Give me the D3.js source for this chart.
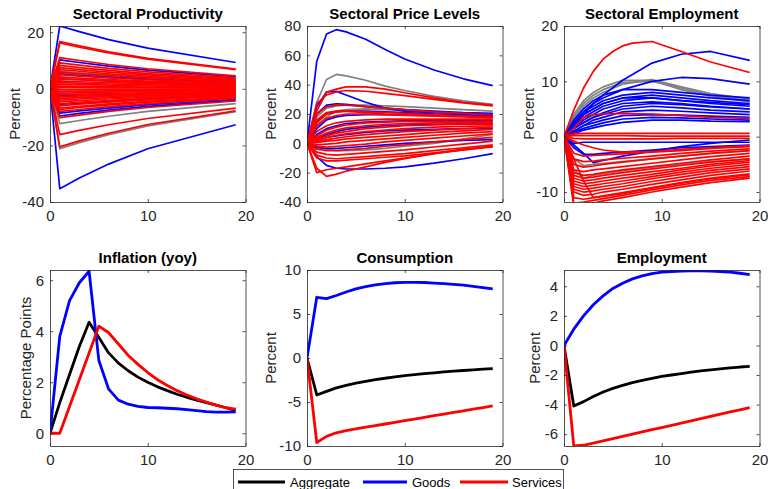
<!DOCTYPE html>
<html>
<head>
<meta charset="utf-8">
<script src="https://cdn.jsdelivr.net/npm/d3@7"></script>
<style>
  body { margin: 0; background: #fff; }
  text { font-family: "Liberation Sans", Arial, Helvetica, sans-serif; }
</style>
</head>
<body>
<div id="chart"></div>
<script>
// ---- data ----

// horizon for the aggregate panels
var horizon = d3.range(0, 20);

// sectoral productivity, sampled at these horizons
var prodX = [0, 1, 3, 6, 10, 19];
var prodBlue = [
  [0, 22.2, 20.2, 17.4, 14.4, 9.3],
  [0, -35.3, -31.5, -26.6, -21.2, -12.7],
  [0, 10.2, 9.3, 8.0, 6.6, 4.3],
  [0, 5.2, 4.7, 4.1, 3.4, 2.2],
  [0, 3.5, 3.2, 2.8, 2.3, 1.5],
  [0, -2.5, -2.3, -2.0, -1.6, -1.1],
  [0, -5.5, -5.0, -4.3, -3.6, -2.3],
  [0, -8.6, -7.8, -6.8, -5.6, -3.6],
  [0, -9.6, -8.7, -7.5, -6.2, -4.0]
];
var prodGray = [
  [0, 6.2, 5.6, 4.9, 4.0, 2.6],
  [0, 5.6, 5.1, 4.4, 3.6, 2.4],
  [0, -1.0, -0.9, -0.8, -0.6, -0.4],
  [0, -12.3, -11.2, -9.7, -8.0, -5.2],
  [0, -21.2, -19.0, -16.2, -13.1, -8.1],
  [0, -3.2, -2.9, -2.5, -2.1, -1.3]
];
var prodRed = [
  [0, 16.7, 15.2, 13.1, 10.8, 7.0],
  [0, 16.2, 14.7, 12.7, 10.5, 6.8],
  [0, 11.0, 10.0, 8.6, 7.1, 4.6],
  [0, 9.2, 8.4, 7.2, 6.0, 3.9],
  [0, 8.3, 7.5, 6.5, 5.4, 3.5],
  [0, 7.5, 6.8, 5.9, 4.9, 3.2],
  [0, 6.8, 6.2, 5.3, 4.4, 2.9],
  [0, 6.0, 5.4, 4.7, 3.9, 2.5],
  [0, 5.0, 4.5, 3.9, 3.2, 2.1],
  [0, 4.2, 3.8, 3.3, 2.7, 1.8],
  [0, 3.5, 3.2, 2.8, 2.3, 1.5],
  [0, 2.8, 2.5, 2.2, 1.8, 1.2],
  [0, 2.2, 2.0, 1.7, 1.4, 0.9],
  [0, 1.6, 1.5, 1.3, 1.0, 0.7],
  [0, 1.0, 0.9, 0.8, 0.6, 0.4],
  [0, 0.4, 0.4, 0.3, 0.3, 0.2],
  [0, -0.3, -0.3, -0.2, -0.2, -0.1],
  [0, -0.9, -0.8, -0.7, -0.6, -0.4],
  [0, -1.5, -1.4, -1.2, -1.0, -0.6],
  [0, -2.1, -1.9, -1.7, -1.4, -0.9],
  [0, -2.8, -2.5, -2.2, -1.8, -1.2],
  [0, -3.4, -3.1, -2.7, -2.2, -1.4],
  [0, -4.0, -3.6, -3.1, -2.6, -1.7],
  [0, -4.6, -4.2, -3.6, -3.0, -1.9],
  [0, -5.3, -4.8, -4.2, -3.4, -2.2],
  [0, -6.0, -5.4, -4.7, -3.9, -2.5],
  [0, -6.8, -6.2, -5.3, -4.4, -2.9],
  [0, -7.3, -6.6, -5.7, -4.7, -3.1],
  [0, -8.0, -7.3, -6.3, -5.2, -3.4],
  [0, -10.2, -9.3, -8.0, -6.6, -4.3],
  [0, -16.2, -14.7, -12.7, -10.5, -6.8],
  [0, -20.5, -18.4, -15.7, -12.6, -7.8]
];

// sectoral price levels
var priceX = [0, 1, 2, 3, 4, 6, 8, 10, 13, 16, 19];
var priceBlue = [
  [0, 56, 74.5, 77.5, 76, 71, 64, 57.5, 50, 44, 39.3],
  [0, 25, 35, 35.4, 33, 28, 24, 22, 21, 20.5, 20],
  [0, 20, 26, 27, 26.5, 25, 24, 23, 22, 21, 20.5],
  [0, 15, 20, 21.5, 22, 22, 21.5, 21, 20, 19.5, 19],
  [0, 10, 16, 18, 19, 19.5, 19.5, 19.3, 19, 18.7, 18.3],
  [0, 6, 10, 12, 13.5, 14.5, 15, 15.3, 15.5, 15.5, 15.5],
  [0, 3, 6, 8, 9.5, 11, 12, 12.5, 13, 13.2, 13.3],
  [0, 2, 4, 5, 6, 7.5, 8.5, 9, 9.5, 10, 10],
  [0, -3, -3.5, -3.5, -3, -2, -1, 0, 1, 2, 2.5],
  [0, -9, -15, -17, -17.5, -17.5, -17, -16, -13.5, -10.5, -7]
];
var priceGray = [
  [0, 28, 43.5, 47, 46, 43, 39, 36, 32, 29, 26.5],
  [0, 18, 24, 25.5, 26, 26, 25.5, 25, 24, 23, 22],
  [0, 12, 18, 22, 23, 23.5, 23, 22.5, 21.5, 20.5, 20],
  [0, -2, -4, -5, -5, -4.5, -3.5, -2, 0, 3, 6]
];
var priceRed = [
  [0, 22, 35, 37, 38.5, 38.5, 37, 34.5, 31, 28, 26],
  [0, 27, 33, 35, 36, 35.5, 34, 32.5, 30, 27.5, 25.5],
  [0, 20, 25, 26, 26, 25, 24, 23, 21.5, 20.5, 19.5],
  [0, 16, 21, 22, 22, 21, 20, 19.5, 19, 18.5, 18],
  [0, 14, 20, 21.5, 22, 21.5, 21, 20.5, 19.5, 18.5, 17.5],
  [0, 12, 17, 19, 20, 20, 19.5, 19, 18.5, 18, 17.5],
  [0, 8, 12, 14, 15, 16, 16.5, 16.5, 16.5, 16.5, 16.5],
  [0, 5, 9, 11, 12.5, 14, 14.5, 15, 15, 15, 15],
  [0, 4, 7, 9, 10.5, 12, 13, 13.5, 14, 14, 14],
  [0, 3, 5, 7, 8, 10, 11, 12, 12.5, 13, 13],
  [0, 2, 4, 5.5, 6.5, 8, 9, 10, 11, 11.5, 12],
  [0, 1, 2.5, 3.5, 4.5, 6, 7, 8, 9, 10, 11],
  [0, 0.5, 1.5, 2, 3, 4, 5, 6, 7.5, 8.5, 9.5],
  [0, -1, -0.5, 0, 1, 2, 3, 4, 5.5, 7, 8],
  [0, -2, -2.5, -2, -1.5, -0.5, 1, 2, 3.5, 5, 6.5],
  [0, -4, -5, -5, -4.5, -3.5, -2, -1, 1, 2.5, 4],
  [0, -6, -7.5, -8, -7.5, -6.5, -5.5, -4.5, -2.5, -0.5, 1.5],
  [0, -8, -10, -10.5, -10, -9, -8, -7, -5, -3, -1],
  [0, -10, -12, -12, -11.5, -10.5, -9.5, -8.5, -6.5, -4.5, -2.5],
  [0, -20, -18, -17, -16, -14, -12, -10, -7, -4, -2],
  [0, -17, -22.5, -21, -19, -16, -13, -10.5, -7, -4.5, -2]
];

// sectoral employment
var emplX = [0, 1, 2, 3, 4, 6, 9, 12, 15, 19];
var emplBlue = [
  [0, 2, 4, 6, 7.5, 10.2, 13.3, 14.9, 15.4, 13.8],
  [0, 2.5, 4.5, 6, 7, 8.5, 10, 10.7, 10.5, 9.5],
  [0, 3, 5, 6.5, 7.5, 8.5, 8.5, 8, 7.5, 7],
  [0, 2.5, 4.5, 5.5, 6.5, 7.5, 8, 7.5, 7, 6.5],
  [0, 2.5, 4, 5, 6, 7, 7, 6.5, 6.2, 5.8],
  [0, 2, 4, 5, 6, 7, 7.5, 7, 6.5, 6],
  [0, 2, 3.5, 4.5, 5.5, 6.5, 7, 6.5, 6, 5.5],
  [0, 1.5, 2.5, 3.5, 4.3, 5.5, 6, 5.8, 5.4, 5],
  [0, 1.5, 3, 4, 5, 6, 6.3, 6, 5.5, 5],
  [0, 1.5, 2.5, 3.5, 4, 5, 5.5, 5.2, 4.8, 4.5],
  [0, 1, 2, 3, 3.5, 4.5, 4.8, 4.6, 4.3, 4],
  [0, 1, 2, 2.5, 3, 3.8, 4, 3.9, 3.7, 3.5],
  [0, 0.8, 1.5, 2, 2.5, 3.2, 3.5, 3.4, 3.2, 3],
  [0, 0.5, 1.2, 1.6, 2, 2.6, 3, 3, 2.8, 2.7],
  [0, -1.2, -1, -1, -1, -1, -1, -1, -1, -1],
  [0, -1.5, -3, -4.7, -4.3, -3.5, -2.6, -1.8, -1.2, -0.6],
  [0, -2, -3.2, -3.2, -3, -2.8, -2.4, -2, -1.8, -1.5]
];
var emplGray = [
  [0, 4, 6.5, 8, 9, 10.2, 10.2, 8.5, 7.3, 6.3],
  [0, 3.5, 6, 7.5, 8.5, 9.8, 10, 8.8, 7.5, 6.5],
  [0, 3, 5.5, 7, 8, 9.5, 10.3, 9, 7.8, 6.8],
  [0, -4, -5.2, -5, -4.8, -4.5, -4, -3.5, -3, -2.5],
  [0, -6, -7.5, -7, -6.7, -6.2, -5.5, -5, -4.5, -4]
];
// the one services sector that rises to ~17 is read at more horizons
var emplTopX = [0, 1, 2, 3, 4, 5, 6, 7, 9, 12, 15, 19];
var emplRedTop = [[0, 4.8, 8.8, 11.8, 14, 15.4, 16.4, 16.9, 17.2, 15.4, 13.5, 11.6]];
var emplRed = [
  [0, 1.5, 3.5, 4, 4.1, 4.2, 4.1, 3.8, 3.5, 3.3],
  [0, 0.5, 0.6, 0.6, 0.6, 0.6, 0.6, 0.6, 0.6, 0.6],
  [0, 0.2, 0.2, 0.2, 0.2, 0.2, 0.1, 0.1, 0.1, 0.1],
  [0, -0.3, -0.4, -0.4, -0.4, -0.4, -0.4, -0.3, -0.3, -0.3],
  [0, -0.8, -1.5, -2, -2.4, -2.8, -2.7, -2.3, -2, -1.6],
  [0, -3, -3.5, -3.4, -3.3, -3.1, -2.8, -2.5, -2.1, -1.8],
  [0, -4, -4.5, -4.4, -4.2, -3.9, -3.5, -3, -2.6, -2.2],
  [0, -5, -5.5, -5.3, -5, -4.6, -4, -3.5, -3, -2.5],
  [0, -6, -6.3, -6, -5.8, -5.4, -4.8, -4.2, -3.6, -3],
  [0, -6.5, -7, -6.8, -6.5, -6, -5.4, -4.8, -4.2, -3.5],
  [0, -7, -7.5, -7.3, -7, -6.5, -5.8, -5.2, -4.6, -4],
  [0, -7.5, -8, -7.8, -7.5, -7, -6.3, -5.7, -5, -4.3],
  [0, -8, -8.5, -8.3, -8, -7.5, -6.8, -6, -5.3, -4.6],
  [0, -8.5, -9, -8.8, -8.5, -8, -7.2, -6.4, -5.7, -5],
  [0, -9, -9.5, -9.3, -9, -8.5, -7.6, -6.8, -6.1, -5.4],
  [0, -9.5, -10, -9.8, -9.5, -9, -8.1, -7.3, -6.5, -5.8],
  [0, -10, -10.6, -10.4, -10, -9.5, -8.6, -7.8, -7, -6.2],
  [0, -11, -11.3, -11, -10.7, -10.1, -9.2, -8.3, -7.5, -6.7],
  [0, -12, -11.8, -11.5, -11.2, -10.6, -9.6, -8.7, -7.9, -7.2],
  [0, -12.5, -12.3, -12, -11.6, -11, -10, -9.1, -8.3, -7.5],
  [0, -4, -8, -11, -10.8, -10.3, -9.3, -8.4, -7.6, -6.9]
];

// aggregate panels: Aggregate, Goods, Services
var inflAgg  = [0, 1.2, 2.3, 3.4, 4.35, 3.75, 3.15, 2.75, 2.45, 2.2, 2.0, 1.82, 1.67, 1.53, 1.41, 1.3, 1.2, 1.1, 1.0, 0.9];
var inflGood = [0, 3.8, 5.2, 5.9, 6.35, 2.85, 1.73, 1.3, 1.14, 1.05, 1.01, 1.0, 0.98, 0.96, 0.93, 0.89, 0.85, 0.83, 0.83, 0.84];
var inflServ = [0, 0, 1.05, 2.1, 3.15, 4.2, 3.94, 3.5, 3.05, 2.7, 2.38, 2.1, 1.87, 1.67, 1.5, 1.35, 1.22, 1.1, 1.0, 0.95];

var consAgg  = [0, -4.2, -3.8, -3.4, -3.1, -2.85, -2.65, -2.45, -2.3, -2.15, -2.0, -1.9, -1.78, -1.68, -1.58, -1.5, -1.42, -1.34, -1.27, -1.2];
var consGood = [0, 6.9, 6.75, 7.1, 7.5, 7.85, 8.1, 8.3, 8.45, 8.55, 8.6, 8.6, 8.58, 8.52, 8.45, 8.37, 8.27, 8.15, 8.0, 7.85];
var consServ = [0, -9.6, -8.9, -8.5, -8.25, -8.05, -7.86, -7.68, -7.5, -7.31, -7.12, -6.94, -6.75, -6.56, -6.38, -6.19, -6.0, -5.82, -5.63, -5.45];

var empAgg  = [0, -4.1, -3.8, -3.45, -3.15, -2.9, -2.7, -2.52, -2.37, -2.23, -2.1, -2.0, -1.9, -1.8, -1.72, -1.65, -1.58, -1.52, -1.46, -1.42];
var empGood = [0, 1.1, 2.0, 2.75, 3.35, 3.85, 4.2, 4.5, 4.7, 4.85, 4.95, 5.0, 5.03, 5.05, 5.05, 5.03, 5.0, 4.95, 4.88, 4.78];
var empServ = [0, -6.8, -6.75, -6.6, -6.45, -6.3, -6.15, -6.0, -5.85, -5.7, -5.55, -5.4, -5.25, -5.1, -4.95, -4.8, -4.65, -4.5, -4.35, -4.2];

var legendNames = ["Aggregate", "Goods", "Services"];

// ---- layout ----
var colors = { blue: "#0000ff", red: "#ff0000", gray: "#808080", black: "#000000" };
var width = 768, height = 489;
var colLeft = [50, 307, 564], plotW = 195.5;
var rowTop = [26, 270], plotH = 176;

function series(xs, rows, color) {
  return rows.map(function (r) {
    return { color: color, pts: r.map(function (v, i) { return [xs[i], v]; }) };
  });
}

var panels = [
  { title: "Sectoral Productivity", ylabel: "Percent", labelX: 30, ylim: [-40, 22.2], ticks: [-40, -20, 0, 20], lw: 1.7,
    lines: series(prodX, prodGray, colors.gray).concat(series(prodX, prodBlue, colors.blue), series(prodX, prodRed, colors.red)) },
  { title: "Sectoral Price Levels", ylabel: "Percent", labelX: 31, ylim: [-40, 80], ticks: [-40, -20, 0, 20, 40, 60, 80], lw: 1.7,
    lines: series(priceX, priceGray, colors.gray).concat(series(priceX, priceBlue, colors.blue), series(priceX, priceRed, colors.red)) },
  { title: "Sectoral Employment", ylabel: "Percent", labelX: 30, ylim: [-11.8, 20], ticks: [-10, 0, 10, 20], lw: 1.7,
    lines: series(emplX, emplGray, colors.gray).concat(series(emplX, emplBlue, colors.blue),
      series(emplX, emplRed, colors.red), series(emplTopX, emplRedTop, colors.red)) },
  { title: "Inflation (yoy)", ylabel: "Percentage Points", labelX: 19, ylim: [-0.5, 6.4], ticks: [0, 2, 4, 6], lw: 2.8,
    lines: series(horizon, [inflAgg], colors.black).concat(series(horizon, [inflGood], colors.blue), series(horizon, [inflServ], colors.red)) },
  { title: "Consumption", ylabel: "Percent", labelX: 31, ylim: [-10, 10], ticks: [-10, -5, 0, 5, 10], lw: 2.8,
    lines: series(horizon, [consAgg], colors.black).concat(series(horizon, [consGood], colors.blue), series(horizon, [consServ], colors.red)) },
  { title: "Employment", ylabel: "Percent", labelX: 24, ylim: [-6.8, 5.1], ticks: [-6, -4, -2, 0, 2, 4], lw: 2.8,
    lines: series(horizon, [empAgg], colors.black).concat(series(horizon, [empGood], colors.blue), series(horizon, [empServ], colors.red)) }
];

var fmt = function (d) { return String(d); };

var svg = d3.select("#chart").append("svg")
  .attr("width", width)
  .attr("height", height);

panels.forEach(function (p, i) {
  var left = colLeft[i % 3], top = rowTop[Math.floor(i / 3)];
  var x = d3.scaleLinear().domain([0, 20]).range([left, left + plotW]);
  var y = d3.scaleLinear().domain(p.ylim).range([top + plotH, top]);

  var g = svg.append("g");

  g.append("clipPath").attr("id", "clip" + i)
    .append("rect")
    .attr("x", left).attr("y", top).attr("width", plotW).attr("height", plotH);

  var line = d3.line()
    .x(function (d) { return x(d[0]); })
    .y(function (d) { return y(d[1]); });

  g.append("g").attr("clip-path", "url(#clip" + i + ")")
    .selectAll("path")
    .data(p.lines)
    .enter().append("path")
    .attr("d", function (d) { return line(d.pts); })
    .attr("fill", "none")
    .attr("stroke", function (d) { return d.color; })
    .attr("stroke-width", p.lw)
    .attr("stroke-linejoin", "round");

  // axes, MATLAB style: ticks inside, box on
  g.append("g").attr("transform", "translate(0," + (top + plotH) + ")")
    .call(d3.axisBottom(x).tickValues([0, 10, 20]).tickFormat(fmt).tickSizeInner(-3).tickSizeOuter(0).tickPadding(8));
  g.append("g").attr("transform", "translate(" + left + ",0)")
    .call(d3.axisLeft(y).tickValues(p.ticks).tickFormat(fmt).tickSizeInner(-3).tickSizeOuter(0).tickPadding(6));
  g.append("g").attr("transform", "translate(0," + top + ")")
    .call(d3.axisTop(x).tickValues([0, 10, 20]).tickSizeInner(-3).tickSizeOuter(0).tickFormat(""));
  g.append("g").attr("transform", "translate(" + (left + plotW) + ",0)")
    .call(d3.axisRight(y).tickValues(p.ticks).tickSizeInner(-3).tickSizeOuter(0).tickFormat(""));

  g.selectAll(".domain, .tick line").attr("stroke", "#262626").attr("stroke-width", 0.8);
  g.selectAll(".tick text")
    .attr("fill", "#262626")
    .style("font-size", "15px")
    .style("font-family", "'Liberation Sans', Arial, sans-serif");

  g.append("text")
    .attr("x", left + plotW / 2)
    .attr("y", top - 7)
    .attr("text-anchor", "middle")
    .style("font-size", "15px")
    .style("font-weight", "bold")
    .text(p.title);

  g.append("text")
    .attr("transform", "translate(" + (left - p.labelX) + "," + (top + plotH / 2) + ")rotate(-90)")
    .attr("text-anchor", "middle")
    .attr("fill", "#262626")
    .style("font-size", "15px")
    .text(p.ylabel);
});

// legend
var leg = svg.append("g");
leg.append("rect")
  .attr("x", 233.5).attr("y", 469.5).attr("width", 330).attr("height", 26)
  .attr("fill", "#fff").attr("stroke", "#262626").attr("stroke-width", 0.8);

var legItems = [
  { name: legendNames[0], color: colors.black, x0: 238, x1: 285, tx: 290 },
  { name: legendNames[1], color: colors.blue, x0: 363, x1: 407, tx: 412 },
  { name: legendNames[2], color: colors.red, x0: 460, x1: 508, tx: 512 }
];
legItems.forEach(function (d) {
  leg.append("line")
    .attr("x1", d.x0).attr("x2", d.x1).attr("y1", 482).attr("y2", 482)
    .attr("stroke", d.color).attr("stroke-width", 2.8);
  leg.append("text")
    .attr("x", d.tx).attr("y", 486.5)
    .style("font-size", "13px")
    .attr("fill", "#000")
    .text(d.name);
});
</script>
</body>
</html>
